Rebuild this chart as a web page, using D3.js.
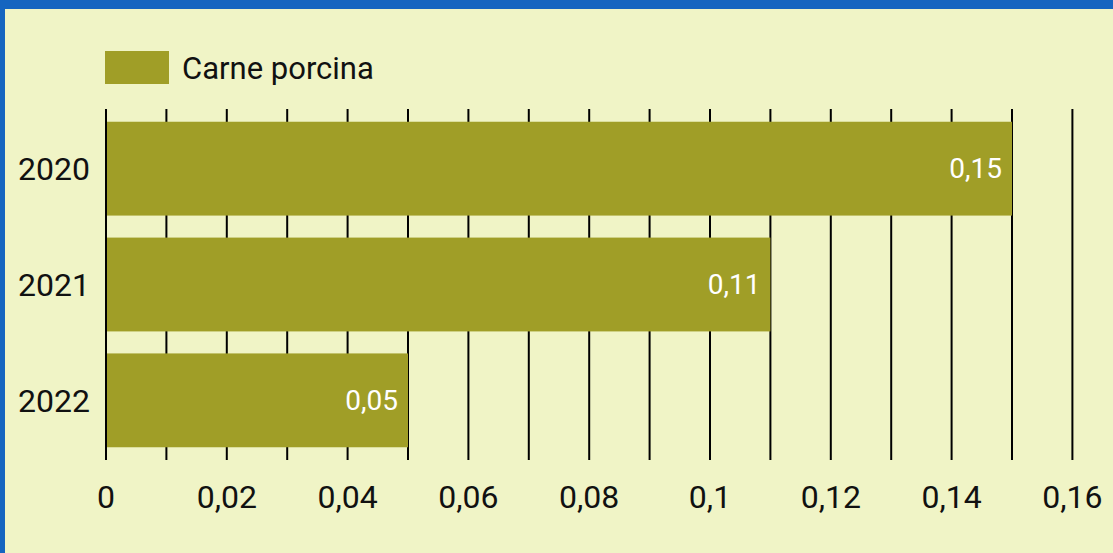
<!DOCTYPE html>
<html>
<head>
<meta charset="utf-8">
<script src="https://cdn.jsdelivr.net/npm/d3@7"></script>
<style>
  html, body { margin: 0; padding: 0; background: #f0f4c6; }
  svg { display: block; font-family: Roboto, "Noto Sans", sans-serif; }
</style>
</head>
<body>
<svg id="chart"></svg>
<script>
var width = 1113,
    height = 553;

// data
var years = ["2020", "2021", "2022"];
var values = [0.15, 0.11, 0.05];
var valueLabels = ["0,15", "0,11", "0,05"];
var seriesName = "Carne porcina";
var gridTicks = [0, 0.01, 0.02, 0.03, 0.04, 0.05, 0.06, 0.07, 0.08, 0.09, 0.1, 0.11, 0.12, 0.13, 0.14, 0.15, 0.16];
var labelTicks = [0, 0.02, 0.04, 0.06, 0.08, 0.1, 0.12, 0.14, 0.16];

var barColor = "#a09e27";

var svg = d3.select("#chart")
    .attr("width", width)
    .attr("height", height);

// background + blue frame (top and left only)
svg.append("rect").attr("width", width).attr("height", height).attr("fill", "#f0f4c6");
svg.append("rect").attr("x", 0).attr("y", 0).attr("width", width).attr("height", 9).attr("fill", "#1565c0");
svg.append("rect").attr("x", 0).attr("y", 0).attr("width", 5).attr("height", height).attr("fill", "#1565c0");

var x = d3.scaleLinear()
    .domain([0, 0.16])
    .range([106, 1072.4]);

var y = d3.scaleBand()
    .domain(years)
    .range([109, 460])
    .paddingInner(0.19)
    .paddingOuter(0.11);

// vertical grid lines
svg.append("g")
   .selectAll("line")
   .data(gridTicks)
   .enter().append("line")
   .attr("x1", function(d) { return x(d); })
   .attr("x2", function(d) { return x(d); })
   .attr("y1", 109)
   .attr("y2", 460)
   .attr("stroke", "#000")
   .attr("stroke-width", 2);

// bars
svg.append("g")
   .selectAll("rect")
   .data(values)
   .enter().append("rect")
   .attr("x", x(0))
   .attr("y", function(d, i) { return y(years[i]); })
   .attr("width", function(d) { return x(d) - x(0); })
   .attr("height", y.bandwidth())
   .attr("fill", barColor);

// zero line on top of the bars
svg.append("line")
   .attr("x1", x(0)).attr("x2", x(0))
   .attr("y1", 109).attr("y2", 460)
   .attr("stroke", "#000")
   .attr("stroke-width", 2);

// value labels
svg.append("g")
   .selectAll("text")
   .data(values)
   .enter().append("text")
   .attr("x", function(d) { return x(d) - 10; })
   .attr("y", function(d, i) { return y(years[i]) + y.bandwidth() / 2; })
   .attr("dy", "0.35em")
   .attr("text-anchor", "end")
   .attr("fill", "#fff")
   .attr("font-size", 28)
   .text(function(d, i) { return valueLabels[i]; });

// x tick labels
svg.append("g")
   .selectAll("text")
   .data(labelTicks)
   .enter().append("text")
   .attr("x", function(d) { return x(d); })
   .attr("y", 508)
   .attr("text-anchor", "middle")
   .attr("fill", "#111")
   .attr("font-size", 32)
   .text(function(d) { return String(d).replace(".", ","); });

// y labels
svg.append("g")
   .selectAll("text")
   .data(years)
   .enter().append("text")
   .attr("x", 90)
   .attr("y", function(d) { return y(d) + y.bandwidth() / 2; })
   .attr("dy", "0.35em")
   .attr("text-anchor", "end")
   .attr("fill", "#111")
   .attr("font-size", 32)
   .text(function(d) { return d; });

// legend
svg.append("rect")
   .attr("x", 105).attr("y", 51)
   .attr("width", 64).attr("height", 33)
   .attr("fill", barColor);
svg.append("text")
   .attr("x", 182).attr("y", 68)
   .attr("dy", "0.35em")
   .attr("fill", "#111")
   .attr("font-size", 31)
   .text(seriesName);
</script>
</body>
</html>
